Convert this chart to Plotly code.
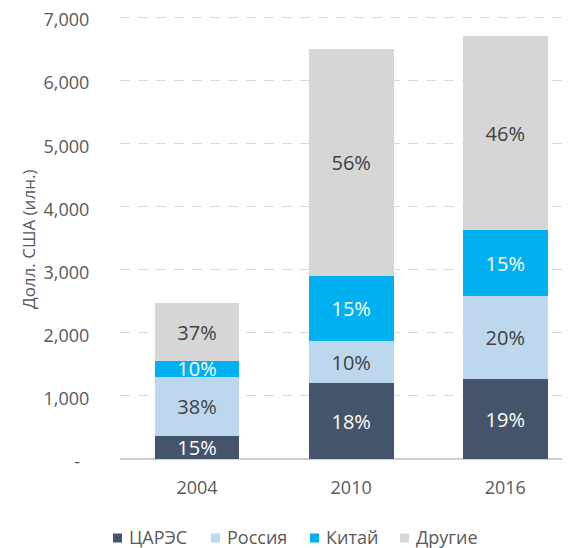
import plotly.graph_objects as go

years = ["2004", "2010", "2016"]
carec = [369, 1198, 1261]
russia = [933, 669, 1323]
china = [249, 1024, 1035]
other = [913, 3609, 3086]

carec_lbl = ["15%", "18%", "19%"]
russia_lbl = ["38%", "10%", "20%"]
china_lbl = ["10%", "15%", "15%"]
other_lbl = ["37%", "56%", "46%"]

y_tickvals = [0, 1000, 2000, 3000, 4000, 5000, 6000, 7000]
y_ticktext = ["-\u00a0\u00a0", "1,000", "2,000", "3,000", "4,000", "5,000", "6,000", "7,000"]

FONT = "Open Sans"
GREY = "#595959"

series = [
    ("ЦАРЭС", carec, carec_lbl, "#44546A", "white"),
    ("Россия", russia, russia_lbl, "#BDD7EE", "#404040"),
    ("Китай", china, china_lbl, "#00B0F0", "white"),
    ("Другие", other, other_lbl, "#D6D6D6", "#404040"),
]

# layout geometry (figure pixels)
W, H = 570, 548
ML, MR, MT, MB = 112, 8, 6, 97
PW, PH = W - ML - MR, H - MT - MB


def px_x(x):
    return (x - ML) / PW


def px_y(y):
    return (H - MB - y) / PH


# legend key positions (figure pixels)
legend_sq_left = [105, 203, 302, 392]
legend_txt_left = [122, 220, 319, 409]
legend_cy = 529
SQ = 9

fig = go.Figure()
shapes, annotations = [], []
for i, (name, vals, lbls, col, tcol) in enumerate(series):
    fig.add_trace(go.Bar(
        x=years, y=vals, name=name, text=lbls,
        textposition="inside", insidetextanchor="middle",
        constraintext="none", cliponaxis=False,
        textfont=dict(family=FONT, size=20, color=tcol),
        marker=dict(color=col, line=dict(width=0)),
        width=0.55, hoverinfo="skip", showlegend=False,
    ))
    shapes.append(dict(type="rect", xref="paper", yref="paper", layer="above",
                       x0=px_x(legend_sq_left[i]), x1=px_x(legend_sq_left[i] + SQ),
                       y0=px_y(legend_cy + 1 + SQ / 2), y1=px_y(legend_cy + 1 - SQ / 2),
                       fillcolor=col, line=dict(width=0)))
    annotations.append(dict(text=name, xref="paper", yref="paper",
                            x=px_x(legend_txt_left[i] - 2), y=px_y(legend_cy),
                            xanchor="left", yanchor="middle", showarrow=False,
                            borderpad=0,
                            font=dict(family=FONT, size=18, color=GREY)))

annotations.append(dict(text="Долл. США (илн.)", textangle=-90, xref="paper", yref="paper",
                        x=px_x(20), y=px_y(232), xanchor="center", yanchor="middle",
                        showarrow=False, font=dict(family=FONT, size=17, color=GREY)))

fig.update_layout(
    barmode="stack",
    width=W, height=H,
    margin=dict(l=ML, r=MR, t=MT, b=MB, autoexpand=False),
    paper_bgcolor="white", plot_bgcolor="white",
    font=dict(family=FONT, color=GREY, size=18),
    showlegend=False,
    xaxis=dict(type="category", range=[-0.5, 2.42], showgrid=False, showline=False,
               automargin=False,
               ticks="outside", ticklen=12, tickcolor="rgba(0,0,0,0)",
               tickfont=dict(family=FONT, size=18, color=GREY), zeroline=False),
    yaxis=dict(range=[0, 7047.5], tickvals=y_tickvals, ticktext=y_ticktext,
               ticklabeloverflow="allow", automargin=False, ticklabelshift=3,
               showgrid=True, gridcolor="#D9D9D9", gridwidth=1, griddash="10px,8px",
               zeroline=True, zerolinecolor="#D0D0D0", zerolinewidth=1.5,
               ticks="outside", ticklen=26, tickcolor="rgba(0,0,0,0)",
               tickfont=dict(family=FONT, size=18, color=GREY), showline=False),
    shapes=shapes,
    annotations=annotations,
)

fig.write_html("out.html")
